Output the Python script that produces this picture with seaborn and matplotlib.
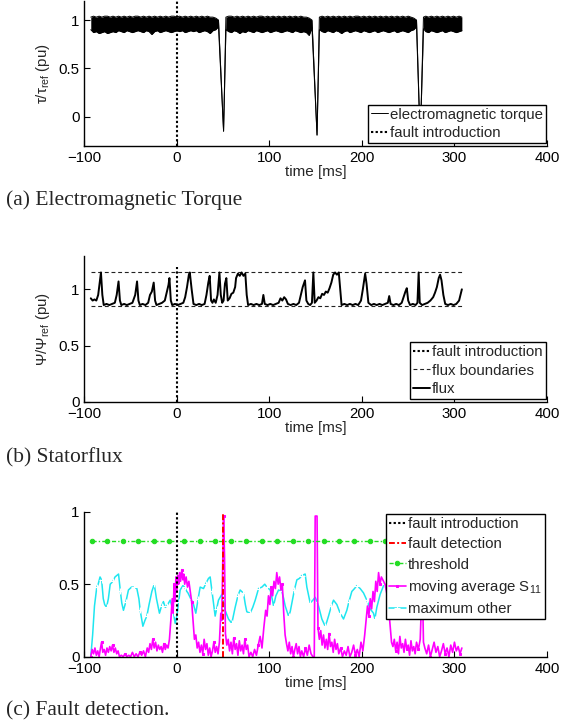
import matplotlib
matplotlib.use("Agg")
import matplotlib.pyplot as plt
import seaborn as sns

# ---------------- data ----------------
x_ticks = [-100, 0, 100, 200, 300, 400]

# (a) electromagnetic torque: noise band (lower/upper envelope) incl. the three dips
torque_t = [-93, -90, -87, -84, -81, -78, -75, -72, -69, -66,
            -63, -60, -57, -54, -51, -48, -45, -42, -39, -36,
            -33, -30, -27, -24, -21, -18, -15, -12, -9, -6,
            -3, 0, 3, 6, 9, 12, 15, 18, 21, 24,
            27, 30, 33, 36, 39, 42, 45,
            50.5,
            53, 56, 59, 62, 65, 68, 71, 74, 77, 80,
            83, 86, 89, 92, 95, 98, 101, 104, 107, 110,
            113, 116, 119, 122, 125, 128, 131, 134, 137, 140,
            143, 146,
            151.5,
            154, 157, 160, 163, 166, 169, 172, 175, 178, 181,
            184, 187, 190, 193, 196, 199, 202, 205, 208, 211,
            214, 217, 220, 223, 226, 229, 232, 235, 238, 241,
            244, 247, 250, 253, 256, 259,
            263,
            266.5, 269, 272, 275, 278, 281, 284, 287, 290, 293,
            296, 299, 302, 305, 308]
torque_lo = [0.90, 0.87, 0.88, 0.86, 0.87, 0.88, 0.86, 0.87, 0.88, 0.87,
             0.89, 0.88, 0.87, 0.89, 0.88, 0.87, 0.88, 0.89, 0.88, 0.87,
             0.89, 0.88, 0.85, 0.88, 0.89, 0.87, 0.88, 0.89, 0.88, 0.87,
             0.88, 0.89, 0.88, 0.89, 0.87, 0.88, 0.89, 0.88, 0.89, 0.87,
             0.88, 0.89, 0.88, 0.86, 0.89, 0.90, 0.93,
             -0.15,
             0.90, 0.88, 0.87, 0.89, 0.88, 0.86, 0.88, 0.87, 0.89, 0.88,
             0.87, 0.89, 0.88, 0.87, 0.88, 0.89, 0.87, 0.88, 0.89, 0.88,
             0.87, 0.88, 0.89, 0.88, 0.87, 0.89, 0.88, 0.87, 0.88, 0.87,
             0.84, 0.92,
             -0.19,
             0.90, 0.88, 0.87, 0.89, 0.88, 0.87, 0.89, 0.88, 0.86, 0.88,
             0.89, 0.87, 0.88, 0.89, 0.88, 0.87, 0.89, 0.88, 0.87, 0.88,
             0.89, 0.87, 0.88, 0.89, 0.88, 0.87, 0.88, 0.89, 0.87, 0.88,
             0.89, 0.88, 0.87, 0.89, 0.90, 0.93,
             -0.25,
             0.91, 0.88, 0.87, 0.89, 0.88, 0.87, 0.88, 0.89, 0.87, 0.88,
             0.89, 0.88, 0.87, 0.88, 0.89]
torque_hi = [1.03, 1.04, 1.03, 1.04, 1.03, 1.04, 1.04, 1.03, 1.04, 1.03,
             1.04, 1.03, 1.04, 1.03, 1.04, 1.03, 1.04, 1.04, 1.03, 1.04,
             1.03, 1.04, 1.03, 1.04, 1.03, 1.04, 1.03, 1.04, 1.03, 1.04,
             1.04, 1.03, 1.04, 1.03, 1.04, 1.03, 1.04, 1.03, 1.04, 1.03,
             1.04, 1.03, 1.04, 1.03, 1.03, 1.02, 1.00,
             -0.15,
             1.03, 1.04, 1.04, 1.03, 1.04, 1.03, 1.04, 1.03, 1.04, 1.03,
             1.04, 1.03, 1.04, 1.04, 1.03, 1.04, 1.03, 1.04, 1.03, 1.04,
             1.03, 1.04, 1.03, 1.04, 1.03, 1.04, 1.03, 1.04, 1.03, 1.03,
             1.02, 1.00,
             -0.19,
             1.03, 1.04, 1.03, 1.04, 1.03, 1.04, 1.03, 1.04, 1.03, 1.04,
             1.03, 1.04, 1.03, 1.04, 1.04, 1.03, 1.04, 1.03, 1.04, 1.03,
             1.04, 1.03, 1.04, 1.03, 1.04, 1.03, 1.04, 1.03, 1.04, 1.03,
             1.04, 1.03, 1.04, 1.03, 1.02, 1.00,
             -0.25,
             1.03, 1.04, 1.03, 1.04, 1.03, 1.04, 1.03, 1.04, 1.03, 1.04,
             1.03, 1.04, 1.03, 1.04, 1.03]

# (b) stator flux
flux_t = [-93, -91, -89, -87, -85, -83, -82, -80.5, -79, -76,
          -73, -70, -67, -65, -63, -61.5, -60, -57, -54, -51,
          -48, -45, -43, -41.5, -40, -37, -34, -31, -29, -27,
          -25, -23.5, -22, -19, -16, -13, -11, -9, -8, -6.5,
          -5, -2, 1, 4, 7, 9, 11, 13, 14, 16,
          18, 21, 24, 27, 30, 32, 34, 35.5, 37, 38.5,
          40, 42, 44, 46, 47.5, 49, 50.5, 52, 53.5, 55,
          57, 59, 61, 63, 64, 66, 68, 70, 72, 74,
          75.5, 77, 80, 83, 86, 89, 92, 93.5, 95, 98,
          101, 104, 107, 110, 112, 114, 116, 118, 120, 123,
          126, 129, 132, 134, 136, 138.5, 140, 142, 144, 146,
          147.5, 149, 151, 153, 155, 157, 159, 161, 163, 165,
          167, 169, 171, 173, 175, 176.5, 178, 181, 184, 187,
          190, 193, 196, 199, 201, 203.5, 205, 207, 210, 213,
          216, 219, 222, 225, 228, 229.5, 231, 234, 237, 240,
          243, 245, 247, 248.5, 250, 252, 255, 258, 260, 261.3,
          262.5, 265, 268, 271, 274, 277, 279, 281, 283, 284.5,
          286, 288, 290, 293, 296, 299, 302, 305, 308]
flux_v = [0.92, 0.90, 0.91, 0.90, 0.95, 1.08, 1.15, 0.95, 0.86, 0.87,
          0.86, 0.87, 0.88, 0.95, 1.07, 0.90, 0.86, 0.87, 0.86, 0.87,
          0.88, 0.95, 1.07, 0.90, 0.86, 0.87, 0.86, 0.88, 0.95, 0.98,
          1.06, 0.90, 0.86, 0.87, 0.88, 0.90, 0.97, 1.04, 1.10, 0.90,
          0.86, 0.87, 0.86, 0.87, 0.88, 0.93, 1.02, 1.13, 1.15, 1.00,
          0.87, 0.86, 0.87, 0.86, 0.87, 0.95, 1.06, 1.12, 0.90, 0.88,
          0.91, 0.88, 0.95, 1.15, 0.95, 0.88, 0.90, 1.05, 1.10, 0.90,
          0.92, 0.96, 0.97, 1.02, 1.10, 1.14, 1.12, 1.15, 1.12, 1.14,
          0.95, 0.86, 0.87, 0.86, 0.87, 0.86, 0.87, 0.95, 0.87, 0.86,
          0.87, 0.86, 0.87, 0.88, 0.92, 0.90, 0.93, 0.91, 0.87, 0.86,
          0.87, 0.86, 0.88, 0.95, 1.02, 1.08, 0.90, 0.87, 0.86, 0.88,
          1.15, 0.88, 0.90, 0.93, 0.92, 0.96, 0.95, 0.98, 0.97, 1.01,
          1.06, 1.13, 1.15, 1.13, 1.15, 1.00, 0.86, 0.87, 0.86, 0.87,
          0.86, 0.87, 0.86, 0.90, 1.00, 1.14, 1.05, 0.88, 0.86, 0.87,
          0.86, 0.87, 0.86, 0.87, 0.88, 0.94, 0.87, 0.86, 0.87, 0.86,
          0.88, 0.93, 0.98, 1.01, 0.90, 0.86, 0.87, 0.86, 0.88, 1.15,
          0.88, 0.86, 0.87, 0.88, 0.90, 0.93, 0.97, 1.02, 1.10, 1.13,
          1.08, 0.95, 0.87, 0.86, 0.87, 0.86, 0.87, 0.90, 1.00]
flux_bounds = [0.85, 1.15]

# (c) fault detection
fault_intro_t = 0
fault_detect_t = 49.8
threshold_value = 0.8
threshold_t = [-92, -75.3, -58.6, -41.9, -25.2, -8.5, 8.2, 24.9, 41.6, 58.3,
               75, 91.7, 108.4, 125.1, 141.8, 158.5, 175.2, 191.9, 208.6, 225.3,
               242, 258.7, 275.4, 292.1, 308.8]

s11_t = [-93, -91.5, -90, -88.5, -87, -85.5, -84, -82.5, -81.3, -80,
         -78.5, -77, -75.5, -74, -72.5, -71, -69.5, -68, -66.5, -65,
         -63.5, -62, -60, -58, -56, -54, -52, -50, -48, -46,
         -44, -42, -40, -38, -36, -34, -32, -30.5, -29, -27.5,
         -26, -24.5, -23, -21.5, -20, -18.5, -17, -15.5, -14, -12.5,
         -11, -9.5, -8, -6.5, -5, -4, -3, -2, -1, 0,
         1, 2, 3, 4, 5.4, 6.5, 7.5, 8.5, 10, 11.5,
         13, 14.5, 16, 17.5, 19, 20.5, 22, 23.5, 25, 26.5,
         28, 29.5, 31, 32.5, 34, 35.5, 37, 38.5, 40, 41.5,
         43, 44.5, 46, 47.5, 48.5, 49.5, 50.5, 51.5, 52.5, 54,
         55.5, 57, 58.5, 60, 61.5, 63, 64.5, 66, 67.5, 69,
         70.5, 72, 73.5, 75, 76.5, 78, 80, 82, 84, 86,
         88, 90, 92, 94, 96, 97.5, 99, 100.5, 102, 103.5,
         105, 106.5, 108, 109.5, 111, 112.5, 114, 115.5, 117, 118.5,
         120, 121.5, 123, 124.5, 126, 127.5, 129, 130.5, 132, 133.5,
         135, 137, 139, 141, 143, 145, 147, 148.5, 149.5, 151.5,
         152.5, 154, 155.5, 157, 158.5, 160, 161.5, 163, 164.5, 166,
         167.5, 169, 170.5, 172, 173.5, 175, 177, 179, 181, 183,
         185, 187, 189, 191, 193, 195, 197, 199, 201, 203,
         204.5, 206, 207.5, 209, 210.5, 212, 213.5, 215, 216.5, 218,
         219.5, 221, 225, 228, 230, 232, 233.5, 235, 236.5, 238,
         239.5, 241, 242.5, 244, 245.5, 247, 248.5, 250, 251.5, 253,
         254.5, 256, 257.5, 259, 261, 263, 264.5, 265.5, 266.5, 268,
         270, 272, 274, 276, 278, 280, 282, 284, 286, 288,
         290, 292, 294, 296, 298, 300, 302, 304, 306, 308]
s11_v = [0.00, 0.05, 0.02, 0.06, 0.01, 0.04, 0.00, 0.06, 0.10, 0.03,
         0.05, 0.01, 0.06, 0.03, 0.07, 0.04, 0.08, 0.03, 0.06, 0.02,
         0.04, 0.00, 0.01, 0.00, 0.02, 0.00, 0.01, 0.00, 0.03, 0.00,
         0.02, 0.00, 0.03, 0.01, 0.04, 0.00, 0.06, 0.03, 0.09, 0.05,
         0.12, 0.06, 0.10, 0.04, 0.08, 0.05, 0.07, 0.03, 0.09, 0.05,
         0.08, 0.06, 0.12, 0.25, 0.40, 0.30, 0.50, 0.38, 0.55, 0.45,
         0.56, 0.50, 0.58, 0.52, 0.60, 0.53, 0.57, 0.50, 0.55, 0.48,
         0.52, 0.45, 0.38, 0.25, 0.12, 0.15, 0.06, 0.10, 0.03, 0.08,
         0.02, 0.12, 0.05, 0.09, 0.01, 0.06, 0.00, 0.04, 0.10, 0.03,
         0.07, 0.02, 0.10, 0.30, 0.25, 0.60, 0.97, 0.70, 0.16, 0.08,
         0.12, 0.04, 0.10, 0.02, 0.13, 0.05, 0.09, 0.01, 0.11, 0.04,
         0.08, 0.02, 0.12, 0.05, 0.08, 0.00, 0.03, 0.00, 0.05, 0.01,
         0.08, 0.14, 0.06, 0.20, 0.32, 0.28, 0.42, 0.36, 0.48, 0.42,
         0.52, 0.47, 0.58, 0.50, 0.55, 0.46, 0.50, 0.30, 0.15, 0.09,
         0.04, 0.10, 0.02, 0.07, 0.00, 0.05, 0.09, 0.02, 0.07, 0.00,
         0.04, 0.00, 0.06, 0.01, 0.08, 0.02, 0.00, 0.00, 0.97, 0.97,
         0.20, 0.12, 0.18, 0.08, 0.15, 0.06, 0.12, 0.05, 0.16, 0.07,
         0.10, 0.03, 0.12, 0.05, 0.09, 0.02, 0.06, 0.00, 0.04, 0.01,
         0.07, 0.00, 0.03, 0.08, 0.01, 0.05, 0.00, 0.10, 0.04, 0.15,
         0.25, 0.35, 0.28, 0.40, 0.33, 0.45, 0.38, 0.52, 0.45, 0.58,
         0.50, 0.55, 0.50, 0.40, 0.25, 0.10, 0.07, 0.12, 0.04, 0.10,
         0.02, 0.14, 0.06, 0.09, 0.03, 0.12, 0.05, 0.08, 0.01, 0.11,
         0.04, 0.07, 0.02, 0.10, 0.05, 0.12, 0.40, 0.45, 0.10, 0.06,
         0.02, 0.08, 0.00, 0.05, 0.10, 0.03, 0.07, 0.00, 0.04, 0.09,
         0.02, 0.06, 0.00, 0.08, 0.03, 0.10, 0.04, 0.07, 0.02, 0.06]

other_t = [-93, -91, -89, -86.5, -85, -83, -81.3, -79.5, -78, -76,
           -74, -72, -69, -66.8, -63, -61, -59.5, -57.7, -55, -52.3,
           -49, -46.8, -43.2, -41, -39.6, -36.7, -34.5, -32.4, -30, -27,
           -24.4, -22, -18.8, -16.5, -14.5, -12.5, -10.8, -7.2, -5.5, -3.6,
           -1.8, 0, 2, 3.6, 6.5, 8.5, 10.8, 12, 15, 18,
           20.5, 23, 25.2, 28.8, 31, 34.2, 36, 38, 39.6, 41.4,
           43, 45, 48.6, 50.5, 52.2, 55.8, 59.4, 61, 63, 66,
           68.4, 70, 72, 74, 75.6, 79.2, 82, 84.7, 88.3, 91.9,
           95, 97.3, 100.9, 103, 104.5, 107, 109.9, 113.5, 115.5, 117.1,
           120.7, 122.5, 124.3, 127, 129.7, 132.5, 135.1, 138.7, 140.5, 144.1,
           147, 149.5, 151.5, 153.1, 156.7, 160.3, 162, 163.9, 167, 169.3,
           172.9, 176.5, 180.1, 183.7, 186, 189.1, 192, 194.5, 198.1, 201.7,
           205.3, 208.9, 212.5, 214, 216.1, 219.7, 224, 230, 236, 242,
           248, 254, 260, 266, 272, 278, 284, 290, 296, 302,
           308]
other_v = [0.00, 0.15, 0.35, 0.48, 0.50, 0.55, 0.53, 0.40, 0.36, 0.34,
           0.40, 0.50, 0.52, 0.55, 0.57, 0.45, 0.37, 0.32, 0.38, 0.46,
           0.48, 0.48, 0.47, 0.40, 0.32, 0.21, 0.25, 0.28, 0.36, 0.45,
           0.50, 0.40, 0.30, 0.35, 0.38, 0.34, 0.35, 0.39, 0.35, 0.30,
           0.23, 0.28, 0.38, 0.46, 0.49, 0.48, 0.45, 0.44, 0.40, 0.36,
           0.30, 0.40, 0.48, 0.47, 0.50, 0.54, 0.55, 0.45, 0.37, 0.28,
           0.33, 0.39, 0.43, 0.40, 0.32, 0.26, 0.23, 0.28, 0.34, 0.42,
           0.46, 0.45, 0.44, 0.36, 0.31, 0.30, 0.34, 0.39, 0.47, 0.48,
           0.50, 0.48, 0.46, 0.40, 0.35, 0.42, 0.46, 0.45, 0.40, 0.35,
           0.28, 0.31, 0.37, 0.46, 0.53, 0.54, 0.56, 0.57, 0.48, 0.37,
           0.39, 0.41, 0.38, 0.35, 0.26, 0.21, 0.24, 0.28, 0.35, 0.39,
           0.36, 0.30, 0.26, 0.32, 0.38, 0.45, 0.47, 0.49, 0.47, 0.44,
           0.39, 0.33, 0.30, 0.26, 0.34, 0.43, 0.50, 0.42, 0.35, 0.45,
           0.52, 0.40, 0.33, 0.45, 0.50, 0.38, 0.35, 0.47, 0.52, 0.40,
           0.36]

# ---------------- style ----------------
sns.set_style("ticks")
plt.rcParams["font.family"] = ["Liberation Sans", "DejaVu Sans"]
plt.rcParams["mathtext.fontset"] = "custom"
plt.rcParams["mathtext.rm"] = "Liberation Sans"
plt.rcParams["mathtext.it"] = "Liberation Sans:italic"
plt.rcParams["mathtext.bf"] = "Liberation Sans:bold"
plt.rcParams["axes.linewidth"] = 1.0
plt.rcParams["axes.edgecolor"] = "black"
plt.rcParams["xtick.color"] = "black"
plt.rcParams["ytick.color"] = "black"

FS = 10.8
W, H = 561, 727
fig = plt.figure(figsize=(W / 100, H / 100), dpi=100)
fig.patch.set_facecolor("white")


def px_axes(left, top, right, bottom):
    return fig.add_axes([left / W, 1 - bottom / H, (right - left) / W, (bottom - top) / H])


def style(ax, ylim, yticks, ytl, hpx, ylabel=None):
    ax.set_xlim(-100, 400)
    ax.set_ylim(*ylim)
    ax.set_xticks(x_ticks)
    ax.set_yticks(yticks)
    ax.set_yticklabels(ytl)
    sns.despine(ax=ax)
    ax.tick_params(direction="in", length=4, width=0.8, pad=3.5, labelsize=FS, colors="black")
    ax.set_xlabel("time [ms]", fontsize=11, va="center")
    ax.xaxis.set_label_coords(0.5, -26.5 / hpx)
    if ylabel is not None:
        ax.set_ylabel(ylabel, fontsize=FS, va="center")
        ax.yaxis.set_label_coords((43 - 84.3) / 462.7, 0.5)


legend_kw = dict(frameon=True, fancybox=False, framealpha=1, edgecolor="black",
                 handlelength=1.15, handletextpad=0.12, borderpad=0.2,
                 borderaxespad=0, fontsize=FS)

# ---------------- (a) ----------------
ax_a = px_axes(84.3, 0.7, 547, 145.7)
ax_a.fill_between(torque_t, torque_lo, torque_hi, color="black", lw=0)
sns.lineplot(x=torque_t, y=torque_hi, ax=ax_a, color="black", lw=0.7)
sns.lineplot(x=torque_t, y=torque_lo, ax=ax_a, color="black", lw=0.7)
h_torque = ax_a.lines[-2]
h_fault_a = ax_a.axvline(fault_intro_t, color="black", lw=1.5, ls=(0, (1.1, 1.1)))
style(ax_a, (-0.3, 1.2), [0, 0.5, 1], ["0", "0.5", "1"], 145.0,
      r"τ/τ$_{\mathrm{ref}}$ (pu)")
leg = ax_a.legend([h_torque, h_fault_a], ["electromagnetic torque", "fault introduction"],
                  loc="lower right", bbox_to_anchor=(0.998, 0.017), labelspacing=0.3,
                  **legend_kw)
leg.get_frame().set_linewidth(1.0)

# ---------------- (b) ----------------
ax_b = px_axes(84.3, 255.6, 547, 401.7)
h_fault_b = ax_b.axvline(fault_intro_t, ymin=0, ymax=1.2 / 1.3, color="black", lw=1.5,
                         ls=(0, (1.1, 1.1)))
h_bounds = None
for b in flux_bounds:
    h_bounds = ax_b.plot([flux_t[0], flux_t[-1]], [b, b], color="#222222", lw=0.8,
                         ls=(0, (3.5, 2.5)))[0]
sns.lineplot(x=flux_t, y=flux_v, ax=ax_b, color="black", lw=1.4)
h_flux = ax_b.lines[-1]
style(ax_b, (0, 1.3), [0, 0.5, 1], ["0", "0.5", "1"], 146.1,
      r"Ψ/Ψ$_{\mathrm{ref}}$ (pu)")
leg = ax_b.legend([h_fault_b, h_bounds, h_flux],
                  ["fault introduction", "flux boundaries", "flux"],
                  loc="lower right", bbox_to_anchor=(0.997, 0.018), labelspacing=0.3,
                  **legend_kw)
leg.get_frame().set_linewidth(1.0)

# ---------------- (c) ----------------
ax_c = px_axes(84.3, 511.7, 547, 656.7)
magenta = "#ff00ff"
cyan = "#1ee6f0"
green = "#22dd22"
sns.lineplot(x=other_t, y=other_v, ax=ax_c, color=cyan, lw=1.1, marker="+", ms=4,
             mew=0.8, markevery=3)
h_other = ax_c.lines[-1]
sns.lineplot(x=s11_t, y=s11_v, ax=ax_c, color=magenta, lw=1.2, marker="s", ms=1.8,
             mec=magenta, mfc=magenta, markevery=8)
h_s11 = ax_c.lines[-1]
sns.lineplot(x=threshold_t, y=[threshold_value] * len(threshold_t), ax=ax_c, color=green,
             lw=1.0, ls=(0, (3, 1.5, 1, 1.5)), marker="o", ms=3.2, mec=green, mfc=green)
h_thr = ax_c.lines[-1]
h_det = ax_c.axvline(fault_detect_t, color="red", lw=1.4, ls=(0, (3, 1.2, 1, 1.2)))
h_fault_c = ax_c.axvline(fault_intro_t, color="black", lw=1.5, ls=(0, (1.1, 1.1)))
style(ax_c, (0, 1), [0, 0.5, 1], ["0", "0.5", "1"], 145.0)
leg = ax_c.legend([h_fault_c, h_det, h_thr, h_s11, h_other],
                  ["fault introduction", "fault detection", "threshold",
                   r"moving average S$_{11}$", "maximum other"],
                  loc="upper right", bbox_to_anchor=(0.9957, 0.984), labelspacing=0.42,
                  **legend_kw)
leg.get_frame().set_linewidth(1.0)

# ---------------- captions ----------------
cap_kw = dict(family=["Liberation Serif", "DejaVu Serif"], fontsize=15.5, va="center", ha="left")
fig.text(6 / W, 1 - 200 / H, "(a) Electromagnetic Torque", **cap_kw)
fig.text(6 / W, 1 - 457.7 / H, "(b) Statorflux", **cap_kw)
fig.text(6 / W, 1 - 711 / H, "(c) Fault detection.", **cap_kw)

fig.savefig("out.png", dpi=100, facecolor="white")
